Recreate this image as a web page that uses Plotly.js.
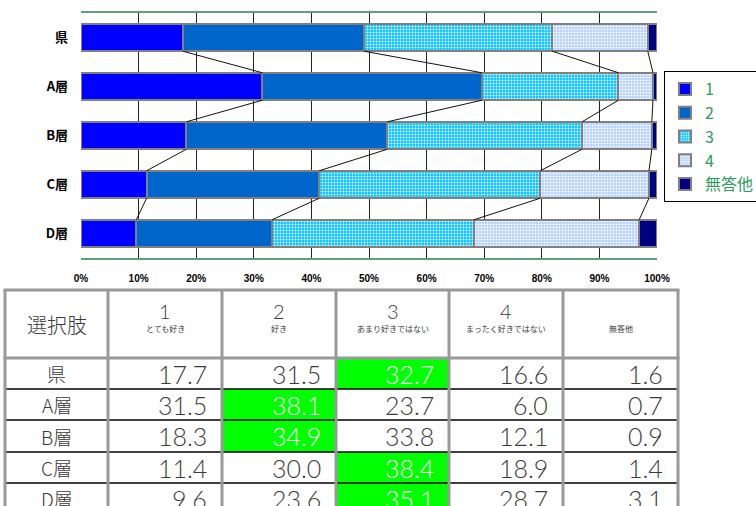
<!DOCTYPE html>
<html><head><meta charset="utf-8">
<script src="https://cdn.plot.ly/plotly-3.0.1.min.js"></script>
<style>html,body{margin:0;padding:0;overflow:hidden;background:#fff}</style>
</head><body><div id="chart" style="width:756px;height:506px"></div>
<script>
// ---- data ----
const categories = ['県', 'A層', 'B層', 'C層', 'D層'];
const seriesNames = ['1', '2', '3', '4', '無答他'];
const headerNumbers = ['1', '2', '3', '4', ''];
const headerLabels = ['とても好き', '好き', 'あまり好きではない', 'まったく好きではない', '無答他'];
const tableCorner = '選択肢';
const s1 = [17.7, 31.5, 18.3, 11.4, 9.6];
const s2 = [31.5, 38.1, 34.9, 30.0, 23.6];
const s3 = [32.7, 23.7, 33.8, 38.4, 35.1];
const s4 = [16.6, 6.0, 12.1, 18.9, 28.7];
const s5 = [1.6, 0.7, 0.9, 1.4, 3.1];
const xTicks = [0, 10, 20, 30, 40, 50, 60, 70, 80, 90, 100];

// ---- styles ----
const W = 756, H = 506;
const px = x => x / W, py = y => 1 - y / H;
const series = [s1, s2, s3, s4, s5];
const colors = ['#0000ff', '#0066cc', '#00c4ff', '#bcd6ff', '#000080'];
const patterns = [
  null, null,
  {shape: '.', fgcolor: '#ffffff', bgcolor: '#00c4ff', size: 3, solidity: 0.35},
  {shape: '.', fgcolor: '#ffffff', bgcolor: '#b4d0ff', size: 3, solidity: 0.4},
  null
];
const BAR_W = 0.56;
const yIdx = categories.map((c, i) => i);

const traces = series.map((vals, k) => {
  const m = {color: colors[k], line: {color: '#808080', width: 2}};
  if (patterns[k]) m.pattern = patterns[k];
  return {type: 'bar', orientation: 'h', name: seriesNames[k], x: vals, y: yIdx,
    width: BAR_W, marker: m, hoverinfo: 'skip'};
});

// connector (series) lines between cumulative boundaries
const totals = categories.map((c, i) => series.reduce((a, s) => a + s[i], 0));
const cum = categories.map((c, i) => {
  let acc = 0; return series.map(s => { acc += s[i]; return acc / totals[i] * 100; });
});
const lx = [], ly = [];
for (let k = 0; k < 4; k++) {
  for (let i = 0; i < categories.length - 1; i++) {
    lx.push(cum[i][k], cum[i + 1][k], null);
    ly.push(i + BAR_W / 2, i + 1 - BAR_W / 2, null);
  }
}
traces.push({type: 'scatter', mode: 'lines', x: lx, y: ly, showlegend: false,
  line: {color: '#111', width: 1}, hoverinfo: 'skip'});

// ---- table (shapes + annotations) ----
const colX = [5, 108, 222, 336, 449, 563, 678];
const rowY = [290, 358, 389, 420, 452, 483, 514];
const shapes = [], annotations = [];
const tFont = 'Noto Sans CJK JP, Noto Sans, sans-serif';
const nFont = 'Lato, Noto Sans, sans-serif';
const textCol = '#3a3a3a';

categories.forEach((c, r) => {
  const vals = series.map(s => s[r]);
  const mx = Math.max(...vals);
  vals.forEach((v, k) => {
    const hi = v === mx;
    if (hi) shapes.push({type: 'rect', xref: 'paper', yref: 'paper', layer: 'below',
      x0: px(colX[k + 1]), x1: px(colX[k + 2]), y0: py(rowY[r + 1]), y1: py(rowY[r + 2]),
      fillcolor: '#00ff00', line: {width: 0}});
    annotations.push({xref: 'paper', yref: 'paper', showarrow: false,
      x: px(colX[k + 2] - 13), y: py((rowY[r + 1] + rowY[r + 2]) / 2),
      xanchor: 'right', yanchor: 'middle', text: v.toFixed(1),
      font: {family: nFont, size: 25, weight: 300, color: hi ? '#ffffff' : textCol}});
  });
  annotations.push({xref: 'paper', yref: 'paper', showarrow: false,
    x: px((colX[0] + colX[1]) / 2), y: py((rowY[r + 1] + rowY[r + 2]) / 2),
    xanchor: 'center', yanchor: 'middle', text: c,
    font: {family: tFont, size: 19, weight: 300, color: textCol}});
});
// header
annotations.push({xref: 'paper', yref: 'paper', showarrow: false,
  x: px((colX[0] + colX[1]) / 2), y: py(324), xanchor: 'center', yanchor: 'middle',
  text: tableCorner, font: {family: tFont, size: 20, weight: 300, color: textCol}});
headerLabels.forEach((lab, k) => {
  const cx = px((colX[k + 1] + colX[k + 2]) / 2);
  if (headerNumbers[k]) annotations.push({xref: 'paper', yref: 'paper', showarrow: false,
    x: cx, y: py(311), xanchor: 'center', yanchor: 'middle', text: headerNumbers[k],
    font: {family: nFont, size: 20, weight: 300, color: textCol}});
  annotations.push({xref: 'paper', yref: 'paper', showarrow: false,
    x: cx, y: py(328), xanchor: 'center', yanchor: 'middle', text: lab,
    font: {family: tFont, size: 8, color: textCol}});
});
// row separators (black)
for (let r = 2; r < rowY.length - 1; r++) {
  shapes.push({type: 'line', xref: 'paper', yref: 'paper', x0: px(colX[0]), x1: px(colX[6]),
    y0: py(rowY[r]), y1: py(rowY[r]), line: {color: '#000', width: 1.5}});
}
// gray top & header-bottom lines
[rowY[0], rowY[1]].forEach(y => shapes.push({type: 'line', xref: 'paper', yref: 'paper',
  x0: px(colX[0] - 1.5), x1: px(colX[6] + 1.5), y0: py(y), y1: py(y), line: {color: '#999', width: 3}}));
// gray vertical lines
colX.forEach(x => shapes.push({type: 'line', xref: 'paper', yref: 'paper',
  x0: px(x), x1: px(x), y0: py(rowY[0]), y1: py(rowY[rowY.length - 1]), line: {color: '#999', width: 3}}));

const layout = {
  width: W, height: H, margin: {l: 0, r: 0, t: 0, b: 0, autoexpand: false},
  paper_bgcolor: '#fff', plot_bgcolor: '#fff',
  barmode: 'stack', barnorm: 'percent', bargap: 0.44,
  showlegend: true,
  xaxis: {domain: [px(81), px(657)], range: [0, 100], tickvals: xTicks, automargin: false,
    ticktext: xTicks.map(v => v + '%'), showgrid: true, gridcolor: '#222', gridwidth: 1,
    zeroline: false, showline: true, mirror: true, linecolor: '#5f9f80', linewidth: 2,
    ticks: '', ticklabelstandoff: 10,
    tickfont: {family: 'Liberation Sans, Arial, sans-serif', size: 10, weight: 'bold', color: '#000'}},
  yaxis: {domain: [py(258), py(13)], range: [4.5, -0.5], tickvals: yIdx, ticktext: categories,
    automargin: false,
    showgrid: false, zeroline: false, showline: false, ticks: '', ticklabelstandoff: 12,
    tickfont: {family: 'Noto Sans CJK JP, sans-serif', size: 13, weight: 'bold', color: '#000'}},
  legend: {x: px(664), y: py(71), xanchor: 'left', yanchor: 'top', traceorder: 'normal',
    bordercolor: '#000', borderwidth: 1, bgcolor: '#fff', itemwidth: 30,
    font: {family: 'Noto Sans CJK JP, sans-serif', size: 16, color: '#2f9a5e'}},
  shapes: shapes, annotations: annotations
};

Plotly.newPlot('chart', traces, layout, {staticPlot: true, displayModeBar: false});
</script></body></html>
